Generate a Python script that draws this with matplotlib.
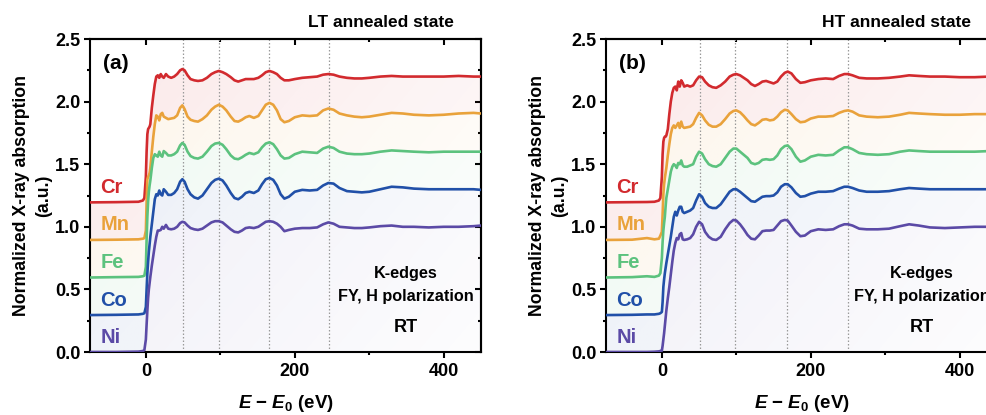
import numpy as np
import matplotlib
matplotlib.use("Agg")
import matplotlib.pyplot as plt
from matplotlib.colors import to_rgb
from matplotlib.ticker import MultipleLocator, FormatStrFormatter, NullFormatter

plt.rcParams['font.family'] = ['Liberation Sans', 'DejaVu Sans']
plt.rcParams['font.weight'] = 'bold'
plt.rcParams['mathtext.fontset'] = 'custom'
plt.rcParams['mathtext.rm'] = 'Liberation Sans:bold'
plt.rcParams['mathtext.it'] = 'Liberation Sans:italic:bold'
plt.rcParams['mathtext.bf'] = 'Liberation Sans:bold'

# ---------------- K-edge XANES, LT annealed state (stacked, offset included) ----------------
energy_lt = [-75, -40, -10, -4, -2,
             0, 1, 2, 3, 4, 5, 6,
             8, 10, 12, 14, 16, 18, 20, 22, 24,
             27, 30, 34, 38, 42, 46, 49, 52, 56, 60,
             65, 70, 76, 82, 88, 93, 98, 103, 108, 114,
             119, 124, 129, 134, 139, 145, 151, 156, 161, 166,
             171, 176, 181, 186, 192, 200, 210, 220, 230, 238,
             245, 252, 260, 270, 280, 290, 300, 315, 330, 345,
             360, 380, 400, 420, 440, 450]

cr_lt = [1.195, 1.197, 1.200, 1.210, 1.230,
         1.400, 1.600, 1.740, 1.780, 1.790, 1.800, 1.820,
         1.950, 2.050, 2.140, 2.200, 2.210, 2.190, 2.220, 2.200, 2.190,
         2.220, 2.200, 2.190, 2.200, 2.220, 2.250, 2.260, 2.250, 2.210, 2.180,
         2.170, 2.165, 2.170, 2.190, 2.220, 2.235, 2.245, 2.235, 2.220, 2.195,
         2.170, 2.160, 2.170, 2.180, 2.180, 2.180, 2.190, 2.210, 2.235, 2.245,
         2.235, 2.220, 2.190, 2.170, 2.170, 2.180, 2.190, 2.195, 2.200, 2.215,
         2.220, 2.215, 2.200, 2.190, 2.185, 2.185, 2.190, 2.200, 2.205, 2.200,
         2.200, 2.200, 2.200, 2.205, 2.200, 2.200]

mn_lt = [0.895, 0.897, 0.900, 0.905, 0.910,
         0.970, 1.200, 1.380, 1.400, 1.410, 1.430, 1.470,
         1.600, 1.720, 1.820, 1.890, 1.880, 1.850, 1.900, 1.910, 1.880,
         1.870, 1.860, 1.865, 1.870, 1.890, 1.950, 1.970, 1.940, 1.880, 1.855,
         1.845, 1.840, 1.860, 1.890, 1.935, 1.960, 1.975, 1.960, 1.930, 1.880,
         1.845, 1.840, 1.855, 1.875, 1.885, 1.870, 1.885, 1.930, 1.975, 1.990,
         1.975, 1.930, 1.860, 1.835, 1.845, 1.875, 1.890, 1.885, 1.890, 1.930,
         1.945, 1.935, 1.905, 1.890, 1.880, 1.875, 1.880, 1.895, 1.910, 1.905,
         1.895, 1.890, 1.895, 1.905, 1.910, 1.905]

fe_lt = [0.595, 0.598, 0.600, 0.605, 0.610,
         0.680, 0.900, 1.080, 1.200, 1.280, 1.330, 1.370,
         1.470, 1.550, 1.580, 1.570, 1.560, 1.600, 1.570, 1.560, 1.605,
         1.590, 1.570, 1.570, 1.580, 1.600, 1.650, 1.670, 1.655, 1.600, 1.565,
         1.550, 1.545, 1.560, 1.600, 1.645, 1.665, 1.670, 1.655, 1.620, 1.570,
         1.545, 1.540, 1.555, 1.575, 1.590, 1.580, 1.595, 1.635, 1.665, 1.675,
         1.660, 1.620, 1.570, 1.545, 1.550, 1.580, 1.600, 1.595, 1.590, 1.625,
         1.640, 1.630, 1.600, 1.585, 1.580, 1.580, 1.585, 1.600, 1.610, 1.605,
         1.600, 1.595, 1.600, 1.600, 1.600, 1.600]

co_lt = [0.295, 0.297, 0.300, 0.305, 0.310,
         0.360, 0.500, 0.630, 0.720, 0.800, 0.860, 0.920,
         1.020, 1.120, 1.220, 1.260, 1.250, 1.290, 1.260, 1.250, 1.300,
         1.280, 1.255, 1.255, 1.270, 1.300, 1.360, 1.380, 1.360, 1.300, 1.260,
         1.235, 1.225, 1.250, 1.300, 1.350, 1.375, 1.385, 1.370, 1.330, 1.270,
         1.230, 1.220, 1.240, 1.270, 1.280, 1.270, 1.290, 1.340, 1.380, 1.390,
         1.375, 1.330, 1.260, 1.225, 1.240, 1.280, 1.295, 1.290, 1.295, 1.330,
         1.350, 1.345, 1.310, 1.285, 1.280, 1.275, 1.280, 1.300, 1.320, 1.315,
         1.305, 1.300, 1.300, 1.300, 1.300, 1.295]

ni_lt = [0.000, 0.000, 0.003, 0.008, 0.015,
         0.100, 0.220, 0.330, 0.430, 0.500, 0.550, 0.600,
         0.690, 0.770, 0.850, 0.920, 0.970, 0.970, 0.975, 1.000, 0.985,
         1.015, 0.985, 0.980, 0.985, 1.000, 1.030, 1.040, 1.035, 1.010, 0.990,
         0.980, 0.975, 0.985, 1.010, 1.035, 1.045, 1.045, 1.035, 1.010, 0.980,
         0.960, 0.955, 0.970, 0.990, 0.995, 0.990, 1.000, 1.020, 1.040, 1.045,
         1.040, 1.025, 1.000, 0.965, 0.975, 0.985, 0.990, 0.990, 0.995, 1.020,
         1.035, 1.025, 1.000, 0.995, 0.990, 0.990, 0.995, 1.005, 1.010, 1.000,
         1.000, 0.995, 1.000, 1.000, 1.005, 1.010]

# ---------------- K-edge XANES, HT annealed state (stacked, offset included) ----------------
energy_ht = [-75, -40, -20, -10, -4, -2,
             0, 1, 2, 3, 4, 5, 6,
             8, 10, 12, 14, 16, 18, 20, 22, 24, 26,
             28, 30, 34, 38, 42, 46, 50, 54, 58, 63,
             68, 73, 79, 85, 91, 96, 100, 105, 110, 115,
             120, 125, 130, 135, 140, 145, 150, 155, 160, 165,
             169, 174, 180, 186, 192, 200, 210, 220, 230, 238,
             245, 250, 256, 265, 275, 290, 305, 320, 332, 345,
             360, 380, 400, 420, 440, 450]

cr_ht = [1.195, 1.197, 1.198, 1.200, 1.210, 1.230,
         1.400, 1.580, 1.680, 1.710, 1.720, 1.720, 1.730,
         1.780, 1.900, 2.000, 2.070, 2.110, 2.120, 2.090, 2.160, 2.120, 2.170,
         2.150, 2.120, 2.130, 2.120, 2.130, 2.170, 2.200, 2.195, 2.160, 2.130,
         2.115, 2.110, 2.130, 2.160, 2.200, 2.215, 2.220, 2.210, 2.190, 2.170,
         2.140, 2.125, 2.140, 2.160, 2.165, 2.155, 2.145, 2.160, 2.200, 2.230,
         2.240, 2.225, 2.180, 2.150, 2.155, 2.170, 2.180, 2.185, 2.180, 2.205,
         2.220, 2.220, 2.210, 2.190, 2.185, 2.185, 2.190, 2.200, 2.210, 2.205,
         2.200, 2.200, 2.195, 2.195, 2.200, 2.200]

mn_ht = [0.895, 0.897, 0.910, 0.900, 0.905, 0.930,
         0.960, 1.100, 1.260, 1.340, 1.390, 1.430, 1.470,
         1.570, 1.660, 1.740, 1.790, 1.810, 1.790, 1.810, 1.830, 1.790, 1.840,
         1.800, 1.790, 1.795, 1.800, 1.820, 1.870, 1.910, 1.890, 1.850, 1.815,
         1.800, 1.800, 1.820, 1.860, 1.905, 1.925, 1.930, 1.915, 1.885, 1.850,
         1.820, 1.810, 1.830, 1.855, 1.860, 1.850, 1.855, 1.880, 1.915, 1.935,
         1.930, 1.900, 1.860, 1.835, 1.840, 1.865, 1.880, 1.880, 1.885, 1.910,
         1.925, 1.930, 1.920, 1.890, 1.880, 1.875, 1.880, 1.895, 1.910, 1.905,
         1.900, 1.895, 1.895, 1.900, 1.900, 1.900]

fe_ht = [0.595, 0.598, 0.605, 0.600, 0.610, 0.630,
         0.750, 0.880, 0.970, 1.030, 1.080, 1.160, 1.230,
         1.300, 1.370, 1.440, 1.480, 1.500, 1.490, 1.470, 1.510, 1.500, 1.530,
         1.490, 1.480, 1.480, 1.490, 1.500, 1.560, 1.600, 1.585, 1.540, 1.500,
         1.485, 1.480, 1.500, 1.550, 1.600, 1.625, 1.625, 1.600, 1.575, 1.550,
         1.510, 1.500, 1.510, 1.535, 1.540, 1.535, 1.540, 1.570, 1.620, 1.645,
         1.650, 1.620, 1.560, 1.520, 1.530, 1.560, 1.575, 1.570, 1.575, 1.610,
         1.635, 1.635, 1.620, 1.590, 1.580, 1.575, 1.580, 1.600, 1.610, 1.605,
         1.600, 1.600, 1.600, 1.600, 1.605, 1.600]

co_ht = [0.295, 0.297, 0.300, 0.300, 0.305, 0.310,
         0.320, 0.400, 0.520, 0.580, 0.630, 0.670, 0.710,
         0.780, 0.850, 0.920, 1.000, 1.080, 1.120, 1.090, 1.130, 1.160, 1.160,
         1.120, 1.110, 1.120, 1.130, 1.150, 1.210, 1.260, 1.240, 1.190, 1.160,
         1.150, 1.150, 1.180, 1.230, 1.280, 1.300, 1.300, 1.280, 1.255, 1.230,
         1.205, 1.200, 1.220, 1.240, 1.245, 1.245, 1.250, 1.275, 1.320, 1.340,
         1.340, 1.315, 1.270, 1.240, 1.245, 1.265, 1.280, 1.280, 1.285, 1.305,
         1.320, 1.320, 1.310, 1.290, 1.280, 1.280, 1.285, 1.300, 1.310, 1.305,
         1.300, 1.300, 1.300, 1.300, 1.300, 1.300]

ni_ht = [0.000, 0.000, 0.000, 0.002, 0.005, 0.008,
         0.010, 0.050, 0.100, 0.150, 0.210, 0.270, 0.330,
         0.430, 0.520, 0.620, 0.720, 0.810, 0.870, 0.910, 0.900, 0.940, 0.950,
         0.900, 0.895, 0.900, 0.910, 0.940, 1.000, 1.040, 1.020, 0.960, 0.920,
         0.900, 0.895, 0.920, 0.980, 1.030, 1.055, 1.050, 1.020, 0.980, 0.935,
         0.905, 0.900, 0.930, 0.965, 0.970, 0.970, 0.975, 1.010, 1.045, 1.055,
         1.050, 1.010, 0.960, 0.925, 0.930, 0.965, 0.980, 0.975, 0.980, 1.005,
         1.020, 1.020, 1.010, 0.985, 0.980, 0.980, 0.985, 1.005, 1.020, 1.010,
         0.995, 0.990, 0.995, 1.000, 1.000, 1.000]

elements = ['Cr', 'Mn', 'Fe', 'Co', 'Ni']
offsets = [1.2, 0.9, 0.6, 0.3, 0.0]
colors = ['#D22A2E', '#E9A23B', '#5CC27E', '#2150A8', '#5B4AA6']

guides_lt = [50, 98, 166, 246]
guides_ht = [51, 98, 168, 250]

panel_titles = ['LT annealed state', 'HT annealed state']
panel_tags = ['(a)', '(b)']
notes = ['K-edges', 'FY, H polarization', 'RT']

XMIN, XMAX = -75, 450
YMIN, YMAX = 0.0, 2.5

panels = [
    (energy_lt, [cr_lt, mn_lt, fe_lt, co_lt, ni_lt], guides_lt),
    (energy_ht, [cr_ht, mn_ht, fe_ht, co_ht, ni_ht], guides_ht),
]


def shade_band(ax, x, upper, lower, color):
    """Soft tinted band between two spectra, fading towards the lower right."""
    band = ax.fill_between(x, lower, upper, facecolor='none', edgecolor='none')
    nx, ny = 240, 120
    gx, gy = np.meshgrid(np.linspace(0, 1, nx), np.linspace(0, 1, ny))
    fade = 0.6 * gx + 0.4 * (1 - gy)
    rgba = np.zeros((ny, nx, 4))
    rgba[..., :3] = to_rgb(color)
    rgba[..., 3] = 0.09 * (1 - fade) + 0.015
    im = ax.imshow(rgba, extent=[XMIN, XMAX, YMIN, YMAX], origin='lower',
                   aspect='auto', interpolation='bilinear', zorder=1)
    im.set_clip_path(band.get_paths()[0], transform=ax.transData)


fig = plt.figure(figsize=(9.87, 4.15), dpi=100)
axes_rects = [[0.0912, 0.1518, 0.3961, 0.7542], [0.614, 0.1518, 0.3961, 0.7542]]

for k, (energy, spectra, guides) in enumerate(panels):
    ax = fig.add_axes(axes_rects[k])
    x = np.asarray(energy)

    for i, (name, off, col, y) in enumerate(zip(elements, offsets, colors, spectra)):
        y = np.asarray(y)
        lower = np.asarray(spectra[i + 1]) if i + 1 < len(spectra) else np.zeros_like(y)
        shade_band(ax, x, y, lower, col)
        ax.plot(x, y, color=col, lw=1.9, zorder=4, solid_joinstyle='round')
        ax.text(-61, off + 0.115, name, color=col, fontsize=14.5, fontweight='bold',
                ha='left', va='center', zorder=5)

    for g in guides:
        ax.axvline(g, color='#9a9a9a', lw=0.9, ls=(0, (1.2, 1.6)), zorder=2)

    ax.set_xlim(XMIN, XMAX)
    ax.set_ylim(YMIN, YMAX)

    ax.xaxis.set_major_locator(MultipleLocator(200))
    ax.xaxis.set_minor_locator(MultipleLocator(100))
    ax.yaxis.set_major_locator(MultipleLocator(0.5))
    ax.yaxis.set_minor_locator(MultipleLocator(0.25))
    ax.yaxis.set_major_formatter(FormatStrFormatter('%.1f'))
    ax.tick_params(which='both', direction='out', width=1.5, labelsize=13,
                   top=False, right=False)
    ax.tick_params(which='major', length=4.5)
    ax.tick_params(which='minor', length=2.5)
    ax.tick_params(axis='x', pad=3.5)
    ax.tick_params(axis='y', pad=2.5)
    for lab in ax.get_xticklabels() + ax.get_yticklabels():
        lab.set_fontweight('bold')
    for sp in ax.spines.values():
        sp.set_linewidth(1.5)

    top = ax.secondary_xaxis('top')
    top.xaxis.set_major_locator(MultipleLocator(200))
    top.xaxis.set_minor_locator(MultipleLocator(100))
    top.xaxis.set_major_formatter(NullFormatter())
    top.tick_params(which='both', direction='in', width=1.5)
    top.tick_params(which='major', length=4.5)
    top.tick_params(which='minor', length=2.5)
    top.spines['top'].set_linewidth(1.5)

    right = ax.secondary_yaxis('right')
    right.yaxis.set_major_locator(MultipleLocator(0.5))
    right.yaxis.set_minor_locator(MultipleLocator(0.25))
    right.yaxis.set_major_formatter(NullFormatter())
    right.tick_params(which='both', direction='in', width=1.5)
    right.tick_params(which='major', length=4.5)
    right.tick_params(which='minor', length=2.5)
    right.spines['right'].set_linewidth(1.5)

    ax.text(0.033, 0.923, panel_tags[k], transform=ax.transAxes, fontsize=15,
            fontweight='bold', ha='left', va='center', zorder=6)
    ax.text(0.743, 1.054, panel_titles[k], transform=ax.transAxes, fontsize=12.5,
            fontweight='bold', ha='center', va='center')

    ax.text(0.808, 0.252, notes[0], transform=ax.transAxes, fontsize=11.7,
            fontweight='bold', ha='center', va='center', zorder=6)
    ax.text(0.808, 0.176, notes[1], transform=ax.transAxes, fontsize=11.7,
            fontweight='bold', ha='center', va='center', zorder=6)
    ax.text(0.808, 0.077, notes[2], transform=ax.transAxes, fontsize=13,
            fontweight='bold', ha='center', va='center', zorder=6)

    ax.text(-0.147, 0.5, 'Normalized X-ray absorption\n(a.u.)', transform=ax.transAxes,
            rotation=90, fontsize=12.7, fontweight='bold', ha='center', va='center',
            multialignment='center', linespacing=1.45)
    ax.text(0.5, -0.163, '$E$ \u2212 $E_0$ (eV)', transform=ax.transAxes,
            fontsize=13.5, fontweight='bold', ha='center', va='center')

fig.savefig('out.png', dpi=100)
